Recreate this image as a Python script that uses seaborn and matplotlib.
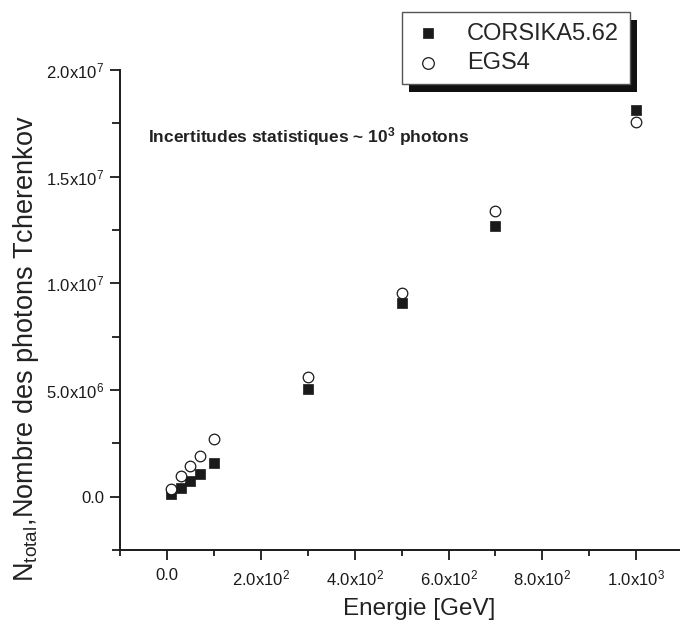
import matplotlib
matplotlib.use("Agg")
import matplotlib.pyplot as plt
import seaborn as sns
import pandas as pd
from matplotlib.patches import Rectangle
from matplotlib.ticker import FixedLocator

energy = [10, 30, 50, 70, 100, 300, 500, 700, 1000]
corsika = [1.4e5, 4.2e5, 7.5e5, 1.06e6, 1.58e6, 5.04e6, 9.09e6, 1.27e7, 1.813e7]
egs4 = [3.7e5, 9.5e5, 1.45e6, 1.92e6, 2.7e6, 5.59e6, 9.55e6, 1.34e7, 1.758e7]
series_names = ["CORSIKA5.62", "EGS4"]
xticks = [0, 200, 400, 600, 800, 1000]
xticklabels = ["0.0", "2.0x10$^{2}$", "4.0x10$^{2}$", "6.0x10$^{2}$", "8.0x10$^{2}$", "1.0x10$^{3}$"]
yticks = [0, 5e6, 1e7, 1.5e7, 2e7]
yticklabels = ["0.0", "5.0x10$^{6}$", "1.0x10$^{7}$", "1.5x10$^{7}$", "2.0x10$^{7}$"]

sns.set_style("ticks")
plt.rcParams["font.family"] = ["Liberation Sans", "DejaVu Sans"]
plt.rcParams["mathtext.fontset"] = "custom"
plt.rcParams["mathtext.rm"] = "Liberation Sans"
plt.rcParams["mathtext.it"] = "Liberation Sans:italic"
plt.rcParams["mathtext.bf"] = "Liberation Sans:bold"

df = pd.DataFrame({"E": energy * 2,
                   "N": corsika + egs4,
                   "src": [series_names[0]] * len(energy) + [series_names[1]] * len(energy)})

fig = plt.figure(figsize=(6.8, 6.28), dpi=100)
ax = fig.add_axes([0.176, 0.1242, 0.829, 0.7643])

sns.scatterplot(data=df[df.src == series_names[0]], x="E", y="N", marker="s", s=50,
                color="#1a1a1a", edgecolor="#1a1a1a", linewidth=0.5, ax=ax,
                label=series_names[0], zorder=3)
sns.scatterplot(data=df[df.src == series_names[1]], x="E", y="N", marker="o", s=58,
                facecolor="white", edgecolor="#1a1a1a", linewidth=0.9, ax=ax,
                label=series_names[1], zorder=4)

ax.set_xlim(-100, 1100)
ax.set_ylim(-2.5e6, 2.0e7)
ax.set_xticks(xticks)
ax.set_xticklabels(xticklabels)
ax.set_yticks(yticks)
ax.set_yticklabels(yticklabels)
ax.xaxis.set_minor_locator(FixedLocator([-100, 100, 300, 500, 700, 900, 1100]))
ax.yaxis.set_minor_locator(FixedLocator([-2.5e6, 2.5e6, 7.5e6, 1.25e7, 1.75e7]))
ax.tick_params(which="major", direction="out", length=7, width=1.3, labelsize=12,
               colors="#1a1a1a")
ax.tick_params(axis="x", which="major", pad=6)
ax.tick_params(axis="y", which="major", pad=4)
ax.tick_params(which="minor", direction="out", length=4, width=1.3, colors="#1a1a1a")
ax.tick_params(axis="y", which="minor", length=6)
for s in ["top", "right"]:
    ax.spines[s].set_visible(False)
for s in ["left", "bottom"]:
    ax.spines[s].set_linewidth(1.4)
    ax.spines[s].set_color("#1a1a1a")

ax.set_xlabel("Energie [GeV]", fontsize=17.5, color="#222222")
ax.xaxis.set_label_coords(0.532, -0.10)
ax.set_ylabel("N$_{\\mathrm{total}}$,Nombre des photons Tcherenkov", fontsize=19.5,
              color="#222222")
ax.yaxis.set_label_coords(-0.14, 0.42)

ax.text(0.05, 0.862, "Incertitudes statistiques ~ 10$^{\\mathbf{3}}$ photons",
        transform=ax.transAxes, fontsize=12.5, fontweight="bold", color="#222222",
        va="center", ha="left")

leg = ax.legend(loc="upper left", bbox_to_anchor=(402 / 680, 1 - 12 / 628),
                bbox_transform=fig.transFigure, borderaxespad=0, frameon=True,
                fancybox=False, edgecolor="#555555", fontsize=17, handletextpad=1.0,
                borderpad=0.45, labelspacing=0.3, handlelength=1.3, markerscale=1.1)
leg.get_frame().set_linewidth(1.0)
leg.get_frame().set_alpha(1)
leg.set_zorder(10)

fig.canvas.draw()
bb = leg.get_window_extent()
shadow = Rectangle((bb.x0 + 7, bb.y0 - 8), bb.width, bb.height, transform=None,
                   facecolor="#111111", edgecolor="none", zorder=9, clip_on=False)
ax.add_patch(shadow)

fig.savefig("out.png", dpi=100)
